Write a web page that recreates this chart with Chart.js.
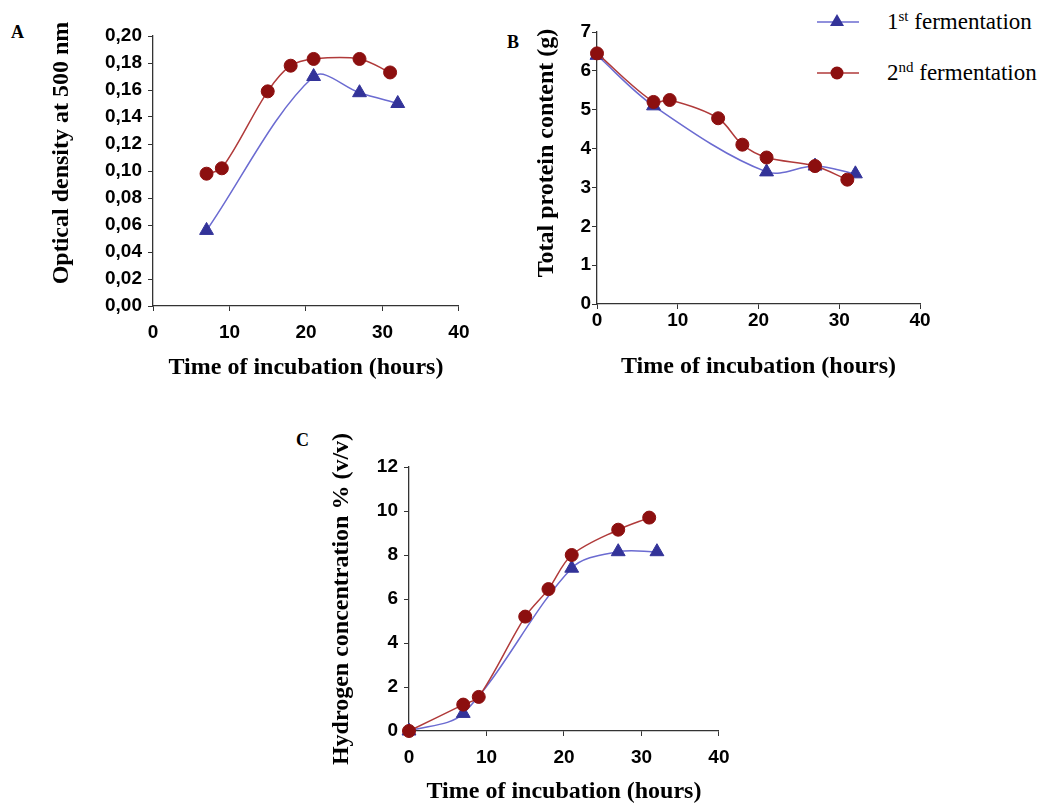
<!DOCTYPE html>
<html>
<head>
<meta charset="utf-8">
<script src="https://cdn.jsdelivr.net/npm/chart.js@4.4.0/dist/chart.umd.min.js"></script>
<style>
    body { margin: 0; background: #fff; width: 1045px; height: 803px; position: relative; overflow: hidden; }
    .panel { position: absolute; }
    .tag { position: absolute; font: bold 18px "Liberation Serif", serif; line-height: 18px; color: #000; }
    .legend-row { position: absolute; left: 815px; height: 30px; display: flex; align-items: center; font: 23px "Liberation Serif", serif; color: #000; white-space: nowrap; }
    .legend-row svg { margin-right: 27px; }
    .legend-row sup { font-size: 15px; vertical-align: 8px; line-height: 0; }
</style>
</head>
<body>
<div class="tag" style="left:11px; top:23px;">A</div>
<div class="tag" style="left:507px; top:33px;">B</div>
<div class="tag" style="left:296px; top:431px;">C</div>

<div class="legend-row" style="top:7px;">
    <svg width="45" height="20"><line x1="2" y1="10" x2="44" y2="10" stroke="#6b6bd1" stroke-width="1.5"/><polygon points="22,2 29,14 15,14" fill="#333399"/></svg>
    <span>1<sup>st</sup> fermentation</span>
</div>
<div class="legend-row" style="top:58px;">
    <svg width="45" height="20"><line x1="2" y1="10" x2="44" y2="10" stroke="#b03a3a" stroke-width="1.5"/><circle cx="22" cy="10" r="6.5" fill="#8c0f0f"/></svg>
    <span>2<sup>nd</sup> fermentation</span>
</div>

<div class="panel" style="left:0px; top:0px; width:480px; height:390px;"><canvas id="chartA"></canvas></div>
<div class="panel" style="left:500px; top:0px; width:450px; height:390px;"><canvas id="chartB"></canvas></div>
<div class="panel" style="left:320px; top:420px; width:420px; height:390px;"><canvas id="chartC"></canvas></div>

<script>
// A: optical density
const hoursOD1 = [7, 21, 27, 32];
const od1 = [0.056, 0.170, 0.158, 0.150];
const hoursOD2 = [7, 9, 15, 18, 21, 27, 31];
const od2 = [0.098, 0.102, 0.159, 0.178, 0.183, 0.183, 0.173];

// B: total protein (g)
const hoursP1 = [0, 7, 21, 27, 32];
const protein1 = [6.40, 5.10, 3.40, 3.55, 3.35];
const hoursP2 = [0, 7, 9, 15, 18, 21, 27, 31];
const protein2 = [6.45, 5.20, 5.25, 4.78, 4.10, 3.77, 3.55, 3.20];

// C: hydrogen % (v/v)
const hoursH1 = [0, 7, 21, 27, 32];
const hydrogen1 = [0, 0.80, 7.40, 8.15, 8.15];
const hoursH2 = [0, 7, 9, 15, 18, 21, 27, 31];
const hydrogen2 = [0, 1.20, 1.55, 5.20, 6.45, 8.00, 9.15, 9.70];

const xTicks = [0, 10, 20, 30, 40];
const odTicks = [0, 0.02, 0.04, 0.06, 0.08, 0.10, 0.12, 0.14, 0.16, 0.18, 0.20];
const proteinTicks = [0, 1, 2, 3, 4, 5, 6, 7];
const hydrogenTicks = [0, 2, 4, 6, 8, 10, 12];
const seriesNames = ['1st fermentation', '2nd fermentation'];

const BLUE_LINE = '#6b6bd1';
const BLUE_MARK = '#333399';
const RED_LINE = '#b03a3a';
const RED_MARK = '#8c0f0f';
const AXIS = '#333';

function toPoints(xs, ys) {
    return xs.map((x, i) => ({ x: x, y: ys[i] }));
}

function makeChart(id, opts) {
    const ctx = document.getElementById(id);
    return new Chart(ctx, {
        type: 'line',
        data: {
            datasets: [{
                label: seriesNames[0],
                data: toPoints(opts.x1, opts.y1),
                borderColor: BLUE_LINE,
                borderWidth: 1.5,
                pointStyle: 'triangle',
                pointRadius: 8,
                pointBackgroundColor: BLUE_MARK,
                pointBorderColor: BLUE_MARK,
                pointBorderWidth: 1,
                tension: 0.33,
                clip: false,
                order: 1
            }, {
                label: seriesNames[1],
                data: toPoints(opts.x2, opts.y2),
                borderColor: RED_LINE,
                borderWidth: 1.5,
                pointStyle: 'circle',
                pointRadius: 6.5,
                pointBackgroundColor: RED_MARK,
                pointBorderColor: RED_MARK,
                pointBorderWidth: 1,
                tension: 0.33,
                clip: false,
                order: 0
            }]
        },
        options: {
            responsive: true,
            maintainAspectRatio: false,
            animation: false,
            layout: { padding: opts.padding },
            plugins: { legend: { display: false }, tooltip: { enabled: false } },
            scales: {
                x: {
                    type: 'linear',
                    min: xTicks[0],
                    max: xTicks[xTicks.length - 1],
                    afterBuildTicks: s => { s.ticks = xTicks.map(v => ({ value: v })); },
                    afterFit: s => { s.height = opts.xHeight; },
                    grid: { drawOnChartArea: false, drawTicks: true, tickLength: 5, color: AXIS },
                    border: { color: AXIS, width: 1.3 },
                    ticks: { color: '#000', padding: opts.xTickPad, font: { family: 'Liberation Sans', size: 19, weight: 'bold' } },
                    title: {
                        display: true,
                        text: 'Time of incubation (hours)',
                        color: '#000',
                        padding: { top: 0, bottom: opts.xTitlePad },
                        font: { family: 'Liberation Serif', size: 24, weight: 'bold' }
                    }
                },
                y: {
                    min: opts.yTicks[0],
                    max: opts.yTicks[opts.yTicks.length - 1],
                    afterBuildTicks: s => { s.ticks = opts.yTicks.map(v => ({ value: v })); },
                    afterFit: s => { s.width = opts.yWidth; },
                    grid: { drawOnChartArea: false, drawTicks: true, tickLength: 5, color: AXIS },
                    border: { color: AXIS, width: 1.3 },
                    ticks: {
                        color: '#000',
                        padding: opts.yTickPad,
                        font: { family: 'Liberation Sans', size: 19, weight: 'bold' },
                        callback: opts.yFormat
                    },
                    title: {
                        display: true,
                        text: opts.yTitle,
                        color: '#000',
                        padding: { top: opts.yTitlePad, bottom: 0 },
                        font: { family: 'Liberation Serif', size: 24, weight: 'bold' }
                    }
                }
            }
        }
    });
}

// leading spaces nudge the rotated titles up a little, as in the original figure
makeChart('chartA', {
    x1: hoursOD1, y1: od1, x2: hoursOD2, y2: od2,
    yTicks: odTicks,
    yFormat: v => v.toFixed(2).replace('.', ','),
    yTitle: '      Optical density at 500 nm',
    padding: { left: 0, top: 36, right: 13, bottom: 0 },
    yWidth: 153, xHeight: 84,
    yTickPad: 6, xTickPad: 10.5,
    yTitlePad: 47.5, xTitlePad: 7.5
});

makeChart('chartB', {
    x1: hoursP1, y1: protein1, x2: hoursP2, y2: protein2,
    yTicks: proteinTicks,
    yFormat: v => String(v),
    yTitle: '     Total protein content (g)',
    padding: { left: 0, top: 32, right: 30, bottom: 0 },
    yWidth: 97, xHeight: 86,
    yTickPad: 1, xTickPad: 0.5,
    yTitlePad: 32, xTitlePad: 8.5
});

makeChart('chartC', {
    x1: hoursH1, y1: hydrogen1, x2: hoursH2, y2: hydrogen2,
    yTicks: hydrogenTicks,
    yFormat: v => String(v),
    yTitle: 'Hydrogen concentration % (v/v)',
    padding: { left: 0, top: 47, right: 21, bottom: 0 },
    yWidth: 89, xHeight: 79,
    yTickPad: 6, xTickPad: 10.5,
    yTitlePad: 7, xTitlePad: 4
});
</script>
</body>
</html>
